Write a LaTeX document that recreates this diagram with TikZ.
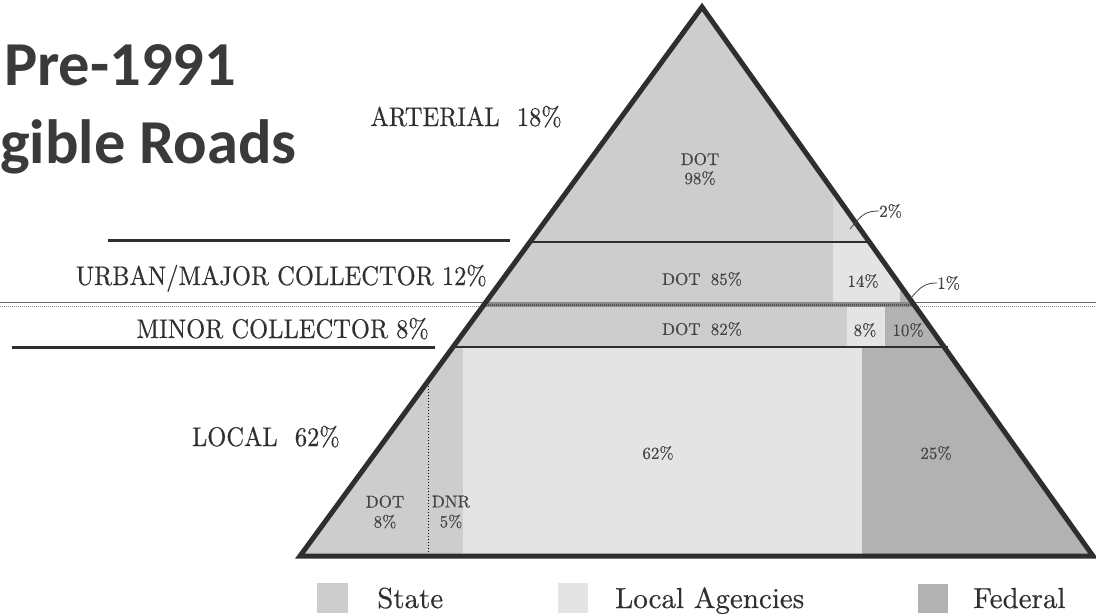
\documentclass[tikz,border=0pt]{standalone}
\usepackage{fontspec}
\newfontfamily\titlefont{Carlito}
\newfontfamily\lblfont{lmroman10-regular.otf}[FakeBold=0.4]
\definecolor{stateC}{HTML}{CDCDCD}
\definecolor{localC}{HTML}{E4E4E4}
\definecolor{fedC}{HTML}{B2B2B2}
\definecolor{edgeC}{HTML}{2E2E2E}
\definecolor{txtC}{HTML}{303030}
\definecolor{txtS}{HTML}{444444}
\definecolor{titleC}{HTML}{3A3A3A}
\definecolor{bandC}{HTML}{8A8A8A}
\begin{document}
\begin{tikzpicture}[x=1pt,y=-1pt,
  bigl/.style={font=\lblfont\fontsize{24.5}{27}\selectfont, text=txtC, inner sep=0pt, anchor=base east},
  smalll/.style={font=\lblfont\fontsize{17}{19}\selectfont, text=txtS, inner sep=0pt, align=center},
  legt/.style={font=\lblfont\fontsize{29}{31}\selectfont, text=txtC, inner sep=0pt, anchor=base west},
  titlet/.style={font=\titlefont\bfseries\fontsize{62.5}{66}\selectfont, text=titleC, inner sep=0pt, anchor=base west},
  leader/.style={draw=txtS, line width=0.8pt},
  divider/.style={draw=edgeC, line width=2.2pt},
]
\useasboundingbox (0,0) rectangle (1096,616);
\fill[white] (0,0) rectangle (1096,616);

% full-width scan lines
\draw[draw=black!60, line width=1pt] (0,302) -- (1096,302);
\draw[draw=black!45, line width=0.9pt, dash pattern=on 1pt off 1pt] (0,306) -- (1096,306);

\coordinate (apex) at (702,7);
\coordinate (bl) at (300,556);
\coordinate (br) at (1093,556);

\begin{scope}
\clip (apex) -- (bl) -- (br) -- cycle;
\fill[stateC] (250,0) rectangle (1100,560);
\fill[localC!55!stateC] (833,0) rectangle (1100,242);
\fill[localC] (833,242) rectangle (1100,302);
\fill[fedC] (900,242) rectangle (1100,302);
\fill[localC] (847,302) rectangle (885,347);
\fill[fedC] (885,302) rectangle (1100,347);
\fill[localC] (463,347) rectangle (862,560);
\fill[fedC] (862,347) rectangle (1100,560);
\fill[bandC] (250,302) rectangle (1100,307);
\draw[black!70, line width=2pt, dash pattern=on 1pt off 1pt] (250,305) -- (1100,305);
\end{scope}

% row dividers
\draw[divider] (528,242) -- (872,242);
\draw[divider] (451,347) -- (948,347);
\draw[divider] (108,240.5) -- (510,240.5);
\draw[divider] (12,347.5) -- (435,347.5);
\draw[black, line width=1pt, dotted] (428,383) -- (428,556);

% outline
\draw[edgeC, line width=5pt, line join=miter] (apex) -- (bl) -- (br) -- cycle;

% title
\node[titlet] (t1) at (4,85) {Pre-1991};
\node[titlet] (t2) at (0,163) {gible Roads};

% row labels
\node[bigl] (art) at (562,126) {\scalebox{1}[1.1]{ARTERIAL\hspace{0.7em}18\%}};
\node[bigl] (urb) at (487,285) {\scalebox{1}[1.1]{URBAN/MAJOR COLLECTOR 12\%}};
\node[bigl] (min) at (429,338) {\scalebox{1}[1.1]{MINOR COLLECTOR 8\%}};
\node[bigl] (loc) at (340,446) {\scalebox{1}[1.1]{LOCAL\hspace{0.7em}62\%}};

% section labels
\node[smalll] (a98) at (700,169) {DOT\\98\%};
\node[smalll] (u85) at (702,279) {DOT\hspace{0.6em}85\%};
\node[smalll] (u14) at (863,281) {14\%};
\node[smalll] (m82) at (702,329) {DOT\hspace{0.6em}82\%};
\node[smalll] (m8) at (865,330) {8\%};
\node[smalll] (m10) at (908,330) {10\%};
\node[smalll] (l62) at (658,453) {62\%};
\node[smalll] (l25) at (936,453) {25\%};
\node[smalll, font=\lblfont\fontsize{17}{20}\selectfont] (ldot) at (385,512) {DOT\\8\%};
\node[smalll, font=\lblfont\fontsize{17}{20}\selectfont] (ldnr) at (451,512) {DNR\\5\%};

% leaders
\node[smalll, anchor=west] (l2) at (879,211) {2\%};
\coordinate (p2) at (850,229);
\draw[leader] (p2) .. controls (862,214) and (866,211) .. (l2.west);
\node[smalll, anchor=west] (l1) at (937,283) {1\%};
\coordinate (p1) at (911,298);
\draw[leader] (p1) .. controls (921,286) and (926,283) .. (l1.west);

% legend
\fill[stateC] (317,583) rectangle (348,613);
\node[legt] (lgs) at (377,608) {State};
\fill[localC] (558,583) rectangle (588,613);
\node[legt] (lgl) at (615,608) {Local Agencies};
\fill[fedC] (918,584) rectangle (948,613);
\node[legt] (lgf) at (973,608) {Federal};
\end{tikzpicture}
\end{document}
